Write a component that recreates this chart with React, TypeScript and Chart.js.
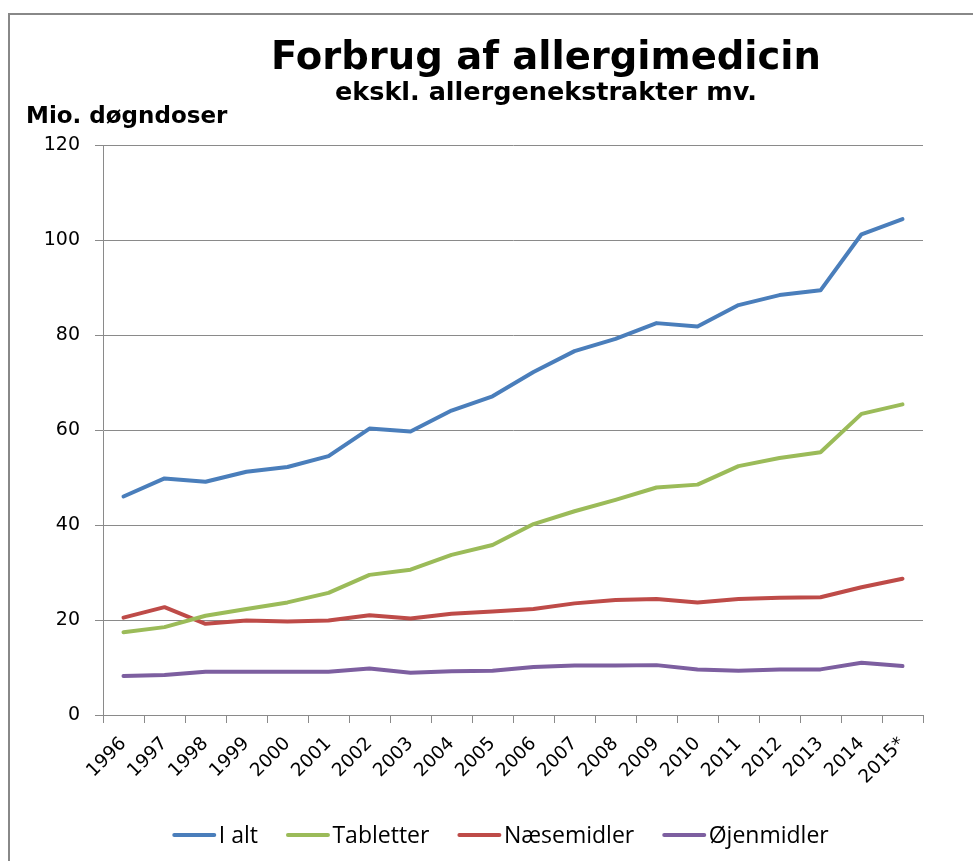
import React, { useEffect, useRef } from "react";
import { Chart, registerables } from "chart.js";

Chart.register(...registerables);

const years = ["1996", "1997", "1998", "1999", "2000", "2001", "2002", "2003", "2004", "2005", "2006", "2007", "2008", "2009", "2010", "2011", "2012", "2013", "2014", "2015*"];
const iAlt = [46.0, 49.8, 49.1, 51.2, 52.2, 54.5, 60.3, 59.7, 64.1, 67.1, 72.2, 76.6, 79.2, 82.5, 81.8, 86.3, 88.4, 89.4, 101.2, 104.4];
const tabletter = [17.4, 18.5, 20.9, 22.3, 23.7, 25.7, 29.5, 30.6, 33.7, 35.8, 40.2, 42.9, 45.3, 47.9, 48.5, 52.4, 54.1, 55.3, 63.4, 65.4];
const naesemidler = [20.5, 22.7, 19.2, 19.9, 19.7, 19.9, 21.0, 20.3, 21.3, 21.8, 22.3, 23.5, 24.2, 24.4, 23.7, 24.4, 24.7, 24.8, 26.9, 28.7];
const ojenmidler = [8.2, 8.4, 9.1, 9.1, 9.1, 9.1, 9.8, 8.9, 9.2, 9.3, 10.1, 10.4, 10.4, 10.5, 9.6, 9.3, 9.6, 9.6, 11.0, 10.3];
const seriesNames = ["I alt", "Tabletter", "Næsemidler", "Øjenmidler"];
const seriesColors = ["#4A7EBB", "#9BBB59", "#BE4B48", "#7D5FA0"];
const yTicks = [0, 20, 40, 60, 80, 100, 120];
const titleText = "Forbrug af allergimedicin";
const subtitleText = "ekskl. allergenekstrakter mv.";
const yAxisTitle = "Mio. døgndoser";

const FONT = '"DejaVu Sans", Verdana, sans-serif';
const GRID = "#8A8A8A";

const textPlugin = {
  id: "texts",
  afterDraw(chart: any) {
    const ctx = chart.ctx;
    ctx.save();
    ctx.fillStyle = "#000";
    ctx.textBaseline = "alphabetic";
    ctx.textAlign = "center";
    ctx.font = `bold 38.5px ${FONT}`;
    ctx.fillText(titleText, 546, 69);
    ctx.font = `bold 25.5px ${FONT}`;
    ctx.fillText(subtitleText, 546, 100);
    ctx.textAlign = "left";
    ctx.font = `bold 23px ${FONT}`;
    ctx.fillText(yAxisTitle, 26, 123);

    // legend
    ctx.font = '23px "Open Sans", sans-serif';
    const lineLen = 42;
    const gapLine = 3.5;
    const gapItem = 29;
    const ds = chart.data.datasets;
    const widths = ds.map((d: any) => ctx.measureText(d.label).width);
    let total = 0;
    widths.forEach((w: number) => (total += lineLen + gapLine + w));
    total += gapItem * (ds.length - 1);
    let x = 501 - total / 2;
    const yc = 835;
    ds.forEach((d: any, i: number) => {
      ctx.strokeStyle = d.borderColor;
      ctx.lineWidth = 4;
      ctx.lineCap = "round";
      ctx.beginPath();
      ctx.moveTo(x + 1, yc);
      ctx.lineTo(x + lineLen - 1, yc);
      ctx.stroke();
      ctx.fillStyle = "#000";
      ctx.fillText(d.label, x + lineLen + gapLine, 843);
      x += lineLen + gapLine + widths[i] + gapItem;
    });
    ctx.restore();
  },
};

export default function App() {
  const ref = useRef<HTMLCanvasElement | null>(null);
  useEffect(() => {
    document.body.style.overflow = "hidden";
    const values = [iAlt, tabletter, naesemidler, ojenmidler];
    const chart = new Chart(ref.current as HTMLCanvasElement, {
      type: "line",
      data: {
        labels: years,
        datasets: values.map((v, i) => ({
          label: seriesNames[i],
          data: v,
          borderColor: seriesColors[i],
          backgroundColor: seriesColors[i],
          borderWidth: 4,
          pointRadius: 0,
          tension: 0,
          borderJoinStyle: "round" as const,
          borderCapStyle: "round" as const,
        })),
      },
      options: {
        animation: false,
        responsive: false,
        maintainAspectRatio: false,
        layout: { padding: { left: 0, right: 50, top: 145, bottom: 0 } },
        plugins: {
          legend: { display: false },
          tooltip: { enabled: false },
          title: { display: false },
        },
        scales: {
          x: {
            type: "category",
            offset: true,
            grid: {
              display: true,
              drawOnChartArea: false,
              drawTicks: true,
              tickLength: 8,
              color: GRID,
              offset: true,
            },
            border: { display: true, color: GRID, width: 1 },
            ticks: {
              autoSkip: false,
              maxRotation: 45,
              minRotation: 45,
              color: "#000",
              padding: 10,
              font: { family: FONT, size: 18.5 },
            },
            afterFit(scale: any) {
              scale.height = 146;
            },
          },
          y: {
            min: 0,
            max: 120,
            afterBuildTicks(scale: any) {
              scale.ticks = yTicks.map((v) => ({ value: v }));
            },
            grid: {
              color: GRID,
              drawTicks: true,
              tickLength: 8,
            },
            border: { display: true, color: GRID, width: 1 },
            ticks: {
              color: "#000",
              padding: 15,
              font: { family: FONT, size: 19 },
            },
            afterFit(scale: any) {
              scale.width = 103;
            },
          },
        },
      },
      plugins: [textPlugin],
    });
    return () => chart.destroy();
  }, []);
  return (
    <div style={{ position: "fixed", left: 0, top: 0, width: 973, height: 861, overflow: "hidden", background: "#fff" }}>
      <canvas ref={ref} width={973} height={861} style={{ position: "absolute", left: 0, top: 0, width: 973, height: 861 }} />
      <div
        style={{
          position: "absolute",
          left: 8,
          top: 13,
          width: 2000,
          height: 2000,
          borderTop: "2px solid #888",
          borderLeft: "2px solid #888",
          pointerEvents: "none",
        }}
      />
    </div>
  );
}
